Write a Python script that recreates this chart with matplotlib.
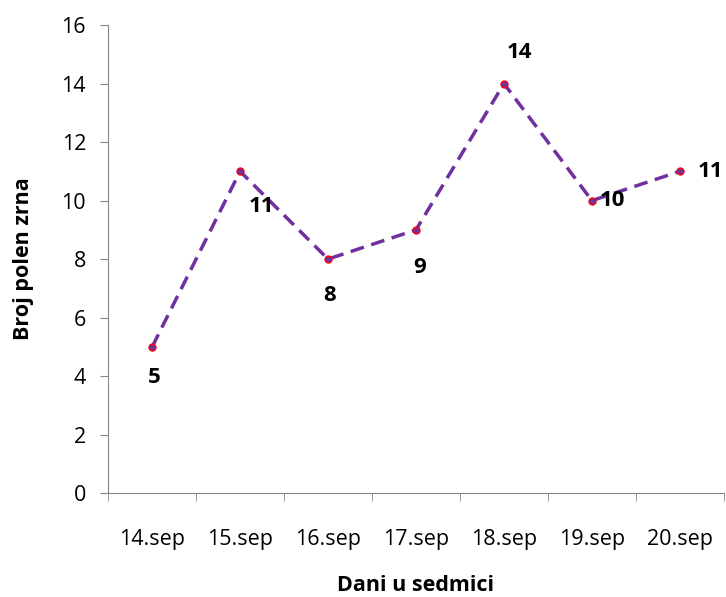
import matplotlib
matplotlib.use('Agg')
import matplotlib.pyplot as plt
import numpy as np

days = ['14.sep', '15.sep', '16.sep', '17.sep', '18.sep', '19.sep', '20.sep']
counts = [5, 11, 8, 9, 14, 10, 11]
# label offsets in pixels (dx, dy) relative to each point
lbl_off = [(2, -31), (21, -35), (2, -36), (4, -38), (15, 31), (20, 0), (31, 0)]

plt.rcParams['font.family'] = ['Open Sans', 'DejaVu Sans']

fig = plt.figure(figsize=(7.26, 5.97), dpi=100)
ax = fig.add_axes([0.149, 0.174, 0.848, 0.784])

x = np.arange(len(days))
ax.plot(x, counts, color='#7030A0', linestyle=(0, (4, 2.2)), linewidth=2.5,
        marker='o', markersize=5, markerfacecolor='#7030A0',
        markeredgecolor='red', markeredgewidth=1, zorder=3)

for xi, yi, (dx, dy) in zip(x, counts, lbl_off):
    ax.annotate(str(yi), (xi, yi), xytext=(dx * 0.72, dy * 0.72),
                textcoords='offset points', ha='center', va='center',
                fontsize=16, fontweight='bold', color='black')

ax.set_xlim(-0.5, len(days) - 0.5)
ax.set_ylim(0, 16)
ax.set_yticks(range(0, 17, 2))
ax.set_xticks(x)
ax.set_xticklabels(days)
ax.set_xticks(np.arange(-0.5, len(days), 1), minor=True)
ax.tick_params(axis='x', which='major', length=0, pad=26, labelsize=15.5)
ax.tick_params(axis='x', which='minor', length=6, color='#868686', direction='out')
ax.tick_params(axis='y', length=6, color='#868686', labelsize=15.5, pad=10)

for s in ['top', 'right']:
    ax.spines[s].set_visible(False)
for s in ['left', 'bottom']:
    ax.spines[s].set_color('#868686')

ax.set_xlabel('Dani u sedmici', fontsize=15.5, fontweight='bold', labelpad=18)
ax.set_ylabel('Broj polen zrna', fontsize=15.5, fontweight='bold', labelpad=20)

fig.savefig('out.png', dpi=100)
